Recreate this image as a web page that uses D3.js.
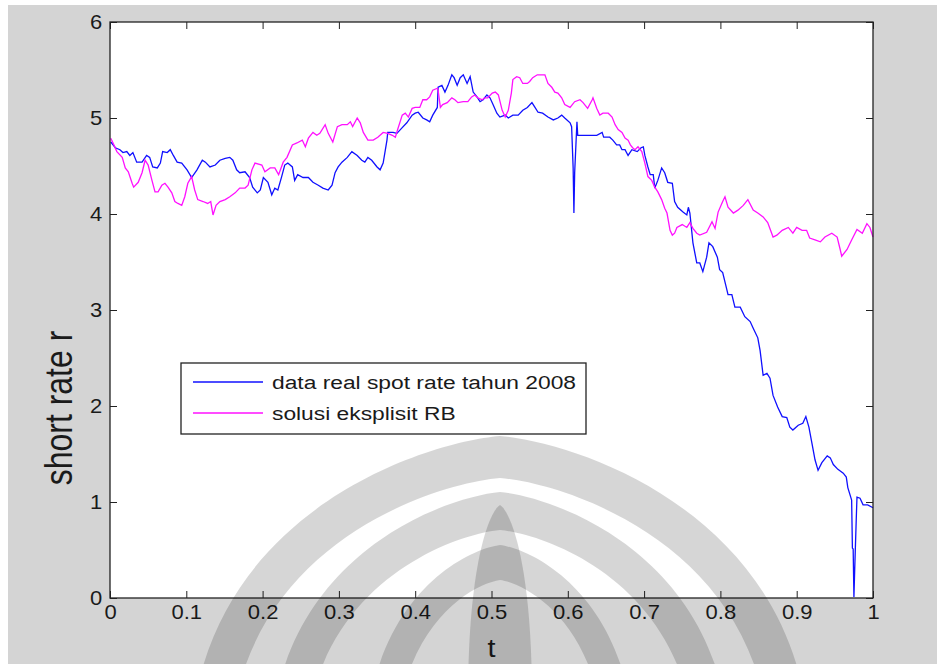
<!DOCTYPE html>
<html>
<head>
<meta charset="utf-8">
<script src="https://cdn.jsdelivr.net/npm/d3@7"></script>
<style>
  body { margin: 0; background: #fff; }
  svg { display: block; font-family: "Liberation Sans", Arial, sans-serif; }
</style>
</head>
<body>
<svg id="chart"></svg>
<script>
// data
const tBlue = [0.001,0.007,0.013,0.017,0.022,0.026,0.030,0.035,0.042,0.048,0.052,0.056,0.062,0.066,0.069,0.075,0.079,0.083,0.088,0.094,0.101,0.107,0.114,0.121,0.125,0.131,0.138,0.144,0.151,0.157,0.161,0.166,0.170,0.177,0.183,0.187,0.193,0.197,0.201,
  0.207,0.212,0.216,0.220,0.225,0.229,0.233,0.239,0.242,0.246,0.253,0.260,0.266,0.273,0.279,0.286,0.291,0.295,0.299,0.304,0.311,0.317,0.324,0.330,0.334,0.338,0.343,0.350,0.354,0.358,0.363,0.364,0.371,0.376,0.383,0.389,0.396,0.400,
  0.404,0.410,0.415,0.419,0.423,0.429,0.430,0.435,0.439,0.443,0.448,0.451,0.455,0.459,0.463,0.468,0.472,0.476,0.481,0.485,0.489,0.494,0.498,0.502,0.507,0.511,0.518,0.522,0.528,0.535,0.541,0.547,0.553,0.557,0.561,0.567,0.574,0.581,0.587,0.592,0.596,
  0.603,0.605,0.607,0.608,0.609,0.612,0.613,0.620,0.638,0.645,0.647,0.655,0.659,0.664,0.668,0.671,0.675,0.679,0.684,0.691,0.696,0.699,0.701,0.705,0.708,0.712,0.714,0.718,0.723,0.727,0.731,0.737,0.740,0.744,0.751,0.756,0.758,0.760,0.764,0.769,
  0.773,0.777,0.782,0.785,0.790,0.796,0.799,0.803,0.807,0.810,0.815,0.819,0.826,0.832,0.839,0.843,0.849,0.852,0.856,0.861,0.865,0.869,0.875,0.881,0.887,0.891,0.895,0.902,0.908,0.912,0.916,0.920,0.924,0.928,0.933,0.940,0.944,0.948,0.954,0.961,
  0.965,0.967,0.972,0.973,0.974,0.975,0.976,0.978,0.979,0.983,0.987,0.993,1.000];
const rBlue = [4.75,4.69,4.67,4.64,4.65,4.61,4.64,4.54,4.54,4.61,4.59,4.49,4.48,4.53,4.65,4.64,4.67,4.61,4.54,4.53,4.46,4.38,4.46,4.56,4.54,4.49,4.51,4.56,4.58,4.59,4.56,4.46,4.43,4.44,4.38,4.28,4.22,4.25,4.38,
  4.33,4.20,4.27,4.25,4.39,4.51,4.53,4.49,4.35,4.41,4.38,4.38,4.33,4.30,4.27,4.25,4.30,4.43,4.49,4.54,4.59,4.65,4.61,4.56,4.54,4.59,4.56,4.49,4.46,4.53,4.77,4.85,4.85,4.84,4.90,4.95,5.03,5.05,
  5.06,5.00,4.98,4.96,5.03,5.11,5.32,5.34,5.27,5.34,5.45,5.42,5.34,5.42,5.45,5.36,5.43,5.27,5.22,5.17,5.19,5.24,5.21,5.14,5.05,5.01,5.03,5.00,5.03,5.03,5.08,5.11,5.16,5.11,5.06,5.05,5.01,4.98,5.00,5.03,5.00,
  4.95,4.91,4.48,4.01,4.43,4.96,4.82,4.82,4.82,4.85,4.80,4.80,4.77,4.72,4.72,4.67,4.67,4.61,4.67,4.65,4.69,4.70,4.61,4.49,4.41,4.41,4.27,4.35,4.48,4.43,4.33,4.32,4.13,4.07,4.02,3.99,4.07,4.01,3.70,3.49,
  3.49,3.40,3.55,3.70,3.66,3.55,3.42,3.39,3.26,3.16,3.16,3.03,3.03,2.93,2.88,2.81,2.71,2.58,2.32,2.34,2.29,2.11,1.99,1.89,1.88,1.78,1.75,1.80,1.82,1.89,1.78,1.61,1.44,1.33,1.41,1.48,1.46,1.39,1.34,1.30,
  1.26,1.15,1.02,0.52,0.51,0.01,0.29,0.81,1.05,1.04,0.97,0.97,0.94];

const tPink = [0.001,0.004,0.009,0.016,0.020,0.024,0.029,0.031,0.037,0.042,0.046,0.050,0.055,0.059,0.063,0.068,0.072,0.076,0.081,0.085,0.089,0.094,0.098,0.102,0.107,0.111,0.115,0.122,0.128,0.132,0.135,0.139,0.144,0.151,0.157,0.164,0.170,0.177,0.181,0.186,
  0.190,0.199,0.203,0.210,0.216,0.221,0.227,0.232,0.239,0.245,0.252,0.256,0.260,0.266,0.271,0.275,0.282,0.286,0.292,0.298,0.304,0.311,0.315,0.318,0.324,0.328,0.332,0.338,0.345,0.351,0.358,0.364,0.370,0.374,0.377,0.383,0.387,0.391,0.396,0.400,
  0.406,0.410,0.415,0.419,0.423,0.429,0.430,0.433,0.436,0.442,0.448,0.452,0.456,0.463,0.469,0.474,0.478,0.482,0.488,0.491,0.495,0.501,0.505,0.509,0.514,0.518,0.522,0.526,0.528,0.533,0.537,0.541,0.547,0.550,0.554,0.560,0.566,0.570,0.574,0.579,
  0.583,0.587,0.592,0.596,0.603,0.609,0.616,0.620,0.626,0.632,0.633,0.638,0.642,0.646,0.653,0.658,0.662,0.666,0.671,0.675,0.679,0.682,0.685,0.688,0.692,0.697,0.701,0.705,0.710,0.714,0.718,0.723,0.727,0.730,0.734,0.737,0.740,0.743,0.750,0.756,
  0.760,0.764,0.769,0.773,0.782,0.789,0.793,0.797,0.803,0.806,0.810,0.817,0.823,0.830,0.836,0.843,0.849,0.856,0.862,0.869,0.874,0.881,0.889,0.895,0.900,0.907,0.913,0.917,0.924,0.931,0.937,0.946,0.953,0.957,0.959,0.966,0.972,0.979,0.986,0.992,
  0.996,1.000];
const rPink = [4.79,4.74,4.65,4.59,4.48,4.44,4.32,4.28,4.33,4.43,4.56,4.51,4.35,4.23,4.23,4.30,4.32,4.28,4.22,4.13,4.11,4.09,4.18,4.32,4.39,4.25,4.15,4.13,4.11,4.13,3.99,4.09,4.13,4.15,4.18,4.22,4.27,4.27,4.30,4.46,
  4.53,4.51,4.44,4.48,4.48,4.41,4.54,4.59,4.72,4.74,4.77,4.70,4.79,4.85,4.82,4.84,4.93,4.84,4.75,4.91,4.93,4.93,4.96,4.91,5.00,4.95,4.85,4.77,4.77,4.80,4.85,4.84,4.82,4.80,4.88,5.03,5.05,5.01,5.10,5.11,
  5.11,5.19,5.19,5.22,5.29,5.31,5.29,5.11,5.14,5.16,5.21,5.19,5.16,5.17,5.17,5.22,5.24,5.21,5.19,5.21,5.21,5.26,5.27,5.24,5.08,5.01,5.08,5.26,5.40,5.43,5.42,5.36,5.36,5.38,5.42,5.45,5.45,5.45,5.36,5.32,
  5.27,5.26,5.21,5.14,5.11,5.17,5.19,5.16,5.10,5.19,5.21,5.10,5.03,5.05,5.05,5.01,4.93,4.88,4.85,4.79,4.77,4.72,4.69,4.67,4.70,4.65,4.53,4.39,4.35,4.28,4.23,4.15,4.06,4.01,3.83,3.78,3.80,3.86,3.89,3.86,
  3.91,3.85,3.80,3.78,3.81,3.92,3.85,4.02,4.13,4.18,4.07,4.01,4.04,4.09,4.15,4.04,4.01,3.97,3.91,3.76,3.78,3.83,3.86,3.80,3.86,3.83,3.83,3.75,3.73,3.71,3.76,3.80,3.76,3.63,3.56,3.63,3.73,3.84,3.80,3.90,
  3.86,3.76];

const xTicks = [0, 0.1, 0.2, 0.3, 0.4, 0.5, 0.6, 0.7, 0.8, 0.9, 1];
const yTicks = [0, 1, 2, 3, 4, 5, 6];
const seriesNames = ['data real spot rate tahun 2008', 'solusi eksplisit RB'];
const seriesColors = ['#1010ff', '#ff10ff'];

class ShortRatePlot {

    constructor(_config) {
        this.config = {
            parentElement: _config.parentElement,
            width: 937,
            height: 664,
            margin: { top: 22, right: 64, bottom: 66, left: 110 }
        };
        this.initVis();
    }

    initVis() {
        let vis = this;
        const c = vis.config;

        vis.innerW = c.width - c.margin.left - c.margin.right;
        vis.innerH = c.height - c.margin.top - c.margin.bottom;

        vis.svg = d3.select(c.parentElement)
            .attr('width', c.width)
            .attr('height', c.height);

        // grey figure background, with the thin white strip top/left of the screenshot
        vis.svg.append('rect')
            .attr('x', 8).attr('y', 5)
            .attr('width', c.width - 8).attr('height', c.height - 5)
            .attr('fill', '#d4d4d4');

        vis.xScale = d3.scaleLinear().domain([0, 1]).range([0, vis.innerW]);
        vis.yScale = d3.scaleLinear().domain([0, 6]).range([vis.innerH, 0]);

        vis.chart = vis.svg.append('g')
            .attr('transform', `translate(${c.margin.left},${c.margin.top})`);

        vis.chart.append('rect')
            .attr('width', vis.innerW)
            .attr('height', vis.innerH)
            .attr('fill', '#fff');

        vis.blue = tBlue.map((t, i) => [t, rBlue[i]]);
        vis.pink = tPink.map((t, i) => [t, rPink[i]]);

        vis.line = d3.line()
            .x(d => vis.xScale(d[0]))
            .y(d => vis.yScale(d[1]));

        vis.renderVis();
    }

    renderVis() {
        let vis = this;
        const c = vis.config;

        // the two series
        [vis.blue, vis.pink].forEach((s, i) => {
            vis.chart.append('path')
                .datum(s)
                .attr('fill', 'none')
                .attr('stroke', seriesColors[i])
                .attr('stroke-width', 1.3)
                .attr('d', vis.line);
        });

        // MATLAB style box with inward ticks on all four sides
        const tickFont = g => g.selectAll('text')
            .attr('font-size', 20)
            .attr('fill', '#1a1a1a')
            .attr('transform', 'scale(1.1,1)');
        const cleanAxis = g => {
            g.select('.domain').remove();
            g.selectAll('line').attr('stroke', '#222');
        };

        vis.chart.append('g')
            .attr('transform', `translate(0,${vis.innerH})`)
            .call(d3.axisBottom(vis.xScale).tickValues(xTicks).tickFormat(d => d)
                .tickSizeInner(-7).tickSizeOuter(0).tickPadding(7))
            .call(cleanAxis).call(tickFont);

        vis.chart.append('g')
            .call(d3.axisTop(vis.xScale).tickValues(xTicks).tickFormat('')
                .tickSizeInner(-7).tickSizeOuter(0))
            .call(cleanAxis);

        vis.chart.append('g')
            .call(d3.axisLeft(vis.yScale).tickValues(yTicks).tickFormat(d => d)
                .tickSizeInner(-7).tickSizeOuter(0).tickPadding(7))
            .call(cleanAxis).call(tickFont);

        vis.chart.append('g')
            .attr('transform', `translate(${vis.innerW},0)`)
            .call(d3.axisRight(vis.yScale).tickValues(yTicks).tickFormat('')
                .tickSizeInner(-7).tickSizeOuter(0))
            .call(cleanAxis);

        vis.chart.append('rect')
            .attr('width', vis.innerW)
            .attr('height', vis.innerH)
            .attr('fill', 'none')
            .attr('stroke', '#222')
            .attr('stroke-width', 1.3);

        // axis labels
        vis.svg.append('text')
            .attr('transform', `translate(${c.margin.left + vis.innerW / 2},657) scale(1.15,1)`)
            .attr('text-anchor', 'middle')
            .attr('font-size', 25)
            .attr('fill', '#1a1a1a')
            .text('t');

        vis.svg.append('text')
            .attr('transform', 'translate(72,408) scale(1.2,1) rotate(-90)')
            .attr('text-anchor', 'middle')
            .attr('font-size', 32)
            .attr('fill', '#1a1a1a')
            .text('short rate r');

        // legend
        const legend = vis.svg.append('g').attr('transform', 'translate(181,363)');
        legend.append('rect')
            .attr('width', 405).attr('height', 71)
            .attr('fill', '#fff')
            .attr('stroke', '#222')
            .attr('stroke-width', 1.3);
        seriesNames.forEach((name, i) => {
            const y = 19 + i * 31;
            legend.append('line')
                .attr('x1', 12).attr('x2', 82)
                .attr('y1', y).attr('y2', y)
                .attr('stroke', seriesColors[i])
                .attr('stroke-width', 1.3);
            legend.append('text')
                .attr('transform', `translate(91,${y + 7}) scale(1.2,1)`)
                .attr('font-size', 19)
                .attr('fill', '#1a1a1a')
                .text(name);
        });

        vis.drawWatermark();
    }

    // faint university logo lying over the lower part of the figure
    drawWatermark() {
        let vis = this;
        const cx = 500;
        const dome = (w, top, base) => {
            const h = base - top;
            return `M${cx - w},${base} C${cx - w},${base - h * 0.75} ${cx - w * 0.25},${top + h * 0.02} ${cx},${top}` +
                ` C${cx + w * 0.25},${top + h * 0.02} ${cx + w},${base - h * 0.75} ${cx + w},${base} Z`;
        };
        const bands = [[310, 436, 760, 270, 478, 760], [230, 492, 760, 195, 530, 760], [135, 545, 760, 105, 580, 760]];
        const wm = vis.svg.append('g')
            .attr('fill', '#000')
            .attr('fill-opacity', 0.16)
            .style('pointer-events', 'none');
        bands.forEach(b => {
            wm.append('path')
                .attr('fill-rule', 'evenodd')
                .attr('d', dome(b[0], b[1], b[2]) + ' ' + dome(b[3], b[4], b[5]));
        });
        wm.append('path').attr('d', dome(32, 505, 700));
    }
}

new ShortRatePlot({ parentElement: '#chart' });
</script>
</body>
</html>
